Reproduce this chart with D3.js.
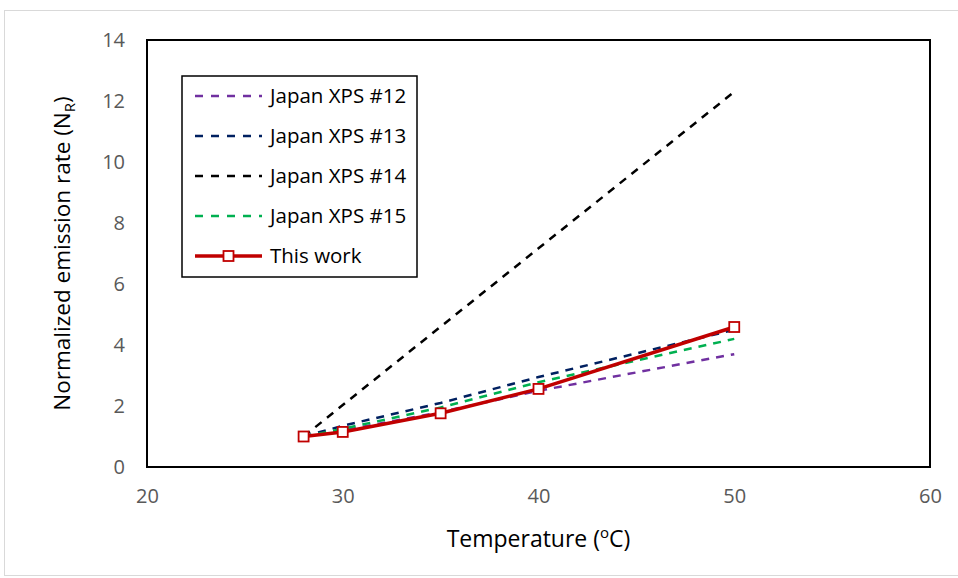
<!DOCTYPE html>
<html><head><meta charset="utf-8">
<script src="https://cdn.jsdelivr.net/npm/d3@7"></script>
<style>body{margin:0;background:#fff}svg{display:block}text{font-family:"Open Sans","Noto Sans",sans-serif}</style>
</head><body>
<svg id="c" width="958" height="578"></svg>
<script>
const temps = [28, 30, 35, 40, 50];
const xps12 = [1.0, 1.2, 1.8, 2.5, 3.7];
const xps13 = [1.0, 1.35, 2.1, 2.95, 4.5];
const xps14 = [1.0, 2.03, 4.6, 7.17, 12.3];
const xps15 = [1.0, 1.25, 1.95, 2.78, 4.2];
const thisWork = [1.0, 1.15, 1.76, 2.56, 4.59];
const xTicks = [20, 30, 40, 50, 60];
const yTicks = [0, 2, 4, 6, 8, 10, 12, 14];
const seriesNames = ["Japan XPS #12", "Japan XPS #13", "Japan XPS #14", "Japan XPS #15", "This work"];
const seriesColors = ["#7030a0", "#002060", "#000000", "#00b050", "#c00000"];

const svg = d3.select("#c");
svg.append("rect").attr("x", 4.5).attr("y", 10.5).attr("width", 960).attr("height", 565)
  .attr("fill", "#fff").attr("stroke", "#d9d9d9");

const L = 147, R = 930, T = 40, B = 467;
const x = d3.scaleLinear().domain([20, 60]).range([L, R]);
const y = d3.scaleLinear().domain([0, 14]).range([B, T]);

svg.append("rect").attr("x", L).attr("y", T).attr("width", R - L).attr("height", B - T)
  .attr("fill", "none").attr("stroke", "#000").attr("stroke-width", 2);

const xAx = svg.append("g").attr("transform", `translate(0,${B})`)
  .call(d3.axisBottom(x).tickValues(xTicks).tickSize(0).tickPadding(22));
const yAx = svg.append("g").attr("transform", `translate(${L},0)`)
  .call(d3.axisLeft(y).tickValues(yTicks).tickSize(0).tickPadding(22));
[xAx, yAx].forEach(a => {
  a.select(".domain").remove();
  a.selectAll("text").attr("font-size", 20).attr("fill", "#595959")
    .attr("font-family", "'Open Sans','Noto Sans',sans-serif");
});

const line = d3.line().x((d, i) => x(temps[i])).y(d => y(d));
const dashed = [xps12, xps13, xps14, xps15];
dashed.forEach((s, k) => {
  svg.append("path").attr("d", line(s)).attr("fill", "none")
    .attr("stroke", seriesColors[k]).attr("stroke-width", 2.5).attr("stroke-dasharray", "8,7");
});
svg.append("path").attr("d", line(thisWork)).attr("fill", "none")
  .attr("stroke", seriesColors[4]).attr("stroke-width", 3.5).attr("stroke-linejoin", "round");
svg.selectAll(".mk").data(thisWork).enter().append("rect")
  .attr("x", (d, i) => x(temps[i]) - 5).attr("y", d => y(d) - 5)
  .attr("width", 10).attr("height", 10).attr("fill", "#fff")
  .attr("stroke", seriesColors[4]).attr("stroke-width", 1.8);

// legend
const lg = svg.append("g");
lg.append("rect").attr("x", 182).attr("y", 76).attr("width", 235).attr("height", 201)
  .attr("fill", "#fff").attr("stroke", "#000").attr("stroke-width", 1.5);
seriesNames.forEach((n, k) => {
  const yy = 96 + k * 40;
  const ln = lg.append("line").attr("x1", 195).attr("x2", 262).attr("y1", yy).attr("y2", yy)
    .attr("stroke", seriesColors[k]);
  if (k < 4) ln.attr("stroke-width", 2.5).attr("stroke-dasharray", "8,8");
  else {
    ln.attr("stroke-width", 3.5);
    lg.append("rect").attr("x", 223.5).attr("y", yy - 5).attr("width", 10).attr("height", 10)
      .attr("fill", "#fff").attr("stroke", seriesColors[k]).attr("stroke-width", 1.8);
  }
  lg.append("text").attr("x", 270).attr("y", yy).attr("dy", "0.35em")
    .attr("font-size", 20.5).attr("fill", "#000").text(n);
});

// axis titles
const xt = svg.append("text").attr("x", (L + R) / 2).attr("y", 547).attr("text-anchor", "middle")
  .attr("font-size", 23).attr("fill", "#000");
xt.append("tspan").text("Temperature (");
xt.append("tspan").attr("font-size", 15).attr("dy", -9).text("o");
xt.append("tspan").attr("dy", 9).text("C)");

const yt = svg.append("text").attr("transform", `translate(70,${(T + B) / 2}) rotate(-90)`)
  .attr("text-anchor", "middle").attr("font-size", 22.5).attr("fill", "#000");
yt.append("tspan").text("Normalized emission rate (N");
yt.append("tspan").attr("font-size", 15).attr("dy", 5).text("R");
yt.append("tspan").attr("dy", -5).text(")");
</script>
</body></html>
